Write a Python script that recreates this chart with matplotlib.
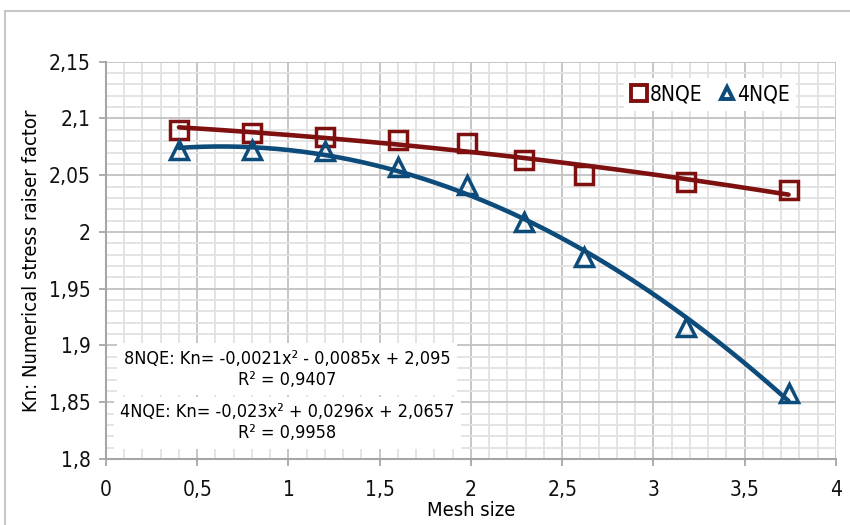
import numpy as np
import matplotlib
matplotlib.use("Agg")
import matplotlib.pyplot as plt
from matplotlib.ticker import MultipleLocator, FuncFormatter
from matplotlib.patches import Rectangle
from matplotlib.lines import Line2D

# Data
mesh_size = [0.4, 0.8, 1.2, 1.6, 1.98, 2.29, 2.62, 3.18, 3.74]
kn_8nqe = [2.090, 2.087, 2.084, 2.081, 2.078, 2.063, 2.050, 2.044, 2.037]
kn_4nqe = [2.072, 2.072, 2.071, 2.057, 2.041, 2.009, 1.978, 1.916, 1.858]
series_names = ["8NQE", "4NQE"]
eq_8nqe = "8NQE: Kn= -0,0021x² - 0,0085x + 2,095\nR² = 0,9407"
eq_4nqe = "4NQE: Kn= -0,023x² + 0,0296x + 2,0657\nR² = 0,9958"

plt.rcParams['font.family'] = ['DejaVu Sans']
FS = dict(fontstretch='condensed')

red = '#7e1010'
blue = '#0d4c7a'

fig = plt.figure(figsize=(8.5, 5.25), dpi=100)
ax = fig.add_axes([0.1247, 0.1257, 0.8588, 0.7568])

x = np.array(mesh_size)
xs = np.linspace(x.min(), x.max(), 200)
for ys, col, mk, ms in [(kn_8nqe, red, 's', 13), (kn_4nqe, blue, '^', 13)]:
    c = np.polyfit(x, ys, 2)
    ax.plot(xs, np.polyval(c, xs), color=col, lw=3.3, zorder=3, solid_capstyle='round')
    ax.plot(x, ys, linestyle='none', marker=mk, markersize=ms, markerfacecolor='none',
            markeredgecolor=col, markeredgewidth=2.5, zorder=4)

ax.set_xlim(0, 4)
ax.set_ylim(1.8, 2.15)
ax.xaxis.set_major_locator(MultipleLocator(0.5))
ax.xaxis.set_minor_locator(MultipleLocator(0.1))
ax.yaxis.set_major_locator(MultipleLocator(0.05))
ax.yaxis.set_minor_locator(MultipleLocator(0.01))
fmt = FuncFormatter(lambda v, p: ('%g' % round(v, 3)).replace('.', ','))
ax.xaxis.set_major_formatter(fmt)
ax.yaxis.set_major_formatter(fmt)

ax.grid(which='major', color='#c2c2c2', lw=1.3, zorder=1)
ax.grid(which='minor', color='#e2e2e2', lw=1.3, zorder=0)
ax.set_axisbelow(True)
for s in ['top', 'right']:
    ax.spines[s].set_visible(False)
for s in ['left', 'bottom']:
    ax.spines[s].set_color('#a6a6a6')
    ax.spines[s].set_linewidth(1.5)
ax.tick_params(which='major', length=5, width=1.3, color='#a6a6a6', labelsize=15,
               labelcolor='#111111', pad=6)
ax.tick_params(axis='x', which='major', pad=10)
ax.tick_params(which='minor', length=0)
for lab in ax.get_xticklabels() + ax.get_yticklabels():
    lab.set_fontstretch('condensed')

ax.set_xlabel("Mesh size", fontsize=14.5, labelpad=1, **FS)
ax.set_ylabel("Kn: Numerical stress raiser factor", fontsize=14.5, labelpad=6, **FS)

handles = [Line2D([], [], linestyle='none', marker='s', markersize=11, markerfacecolor='none',
                  markeredgecolor=red, markeredgewidth=2.8),
           Line2D([], [], linestyle='none', marker='^', markersize=9, markerfacecolor='none',
                  markeredgecolor=blue, markeredgewidth=2.8)]
leg = ax.legend(handles, series_names, loc='upper right', bbox_to_anchor=(0.96, 0.985), ncol=2,
                frameon=True, fancybox=False, edgecolor='none', facecolor='white', framealpha=1,
                handlelength=0.8, handletextpad=0.1, columnspacing=0.8, borderpad=0.3,
                prop=dict(size=15, stretch='condensed'))

ax.text(0.248, 0.275, eq_8nqe, transform=ax.transAxes, ha='center', va='top', fontsize=13,
        linespacing=1.2, zorder=6, **FS,
        bbox=dict(facecolor='white', edgecolor='none', boxstyle='square,pad=0.35'))
ax.text(0.248, 0.14, eq_4nqe, transform=ax.transAxes, ha='center', va='top', fontsize=13,
        linespacing=1.2, zorder=6, **FS,
        bbox=dict(facecolor='white', edgecolor='none', boxstyle='square,pad=0.35'))

fig.patches.append(Rectangle((0.006, -0.01), 1.2, 0.99, transform=fig.transFigure,
                             fill=False, edgecolor='#c8c8c8', lw=1.5))

fig.savefig("out.png", dpi=100)
